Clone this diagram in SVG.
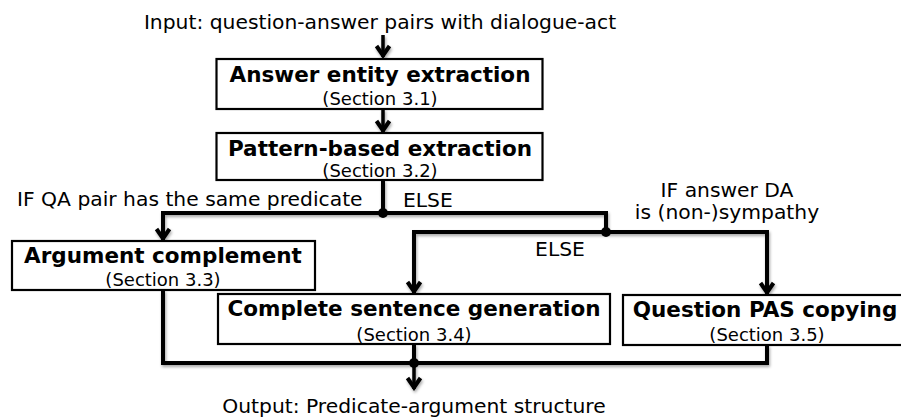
<svg xmlns="http://www.w3.org/2000/svg" width="901" height="417" viewBox="0 0 901 417">
<style>
.box{fill:#fff;stroke:#000;stroke-width:2.2}
.t{font-family:"DejaVu Sans",Verdana,sans-serif;font-weight:bold;font-size:21.5px;fill:#000;text-anchor:middle}
.s{font-family:"DejaVu Sans",Verdana,sans-serif;font-size:18px;fill:#000;text-anchor:middle}
.l{font-family:"DejaVu Sans",Verdana,sans-serif;font-size:20.3px;fill:#000}
.c{fill:none;stroke:#000;stroke-width:4;stroke-linejoin:miter}
.a{fill:none;stroke:#000;stroke-width:3.5}
.dot{fill:#000}
</style>
<defs>
<marker id="arr" viewBox="-14 -10 16 20" refX="0" refY="0" markerWidth="16" markerHeight="20" markerUnits="userSpaceOnUse" orient="auto">
<path d="M -11 -6.5 L -1.5 0 L -11 6.5" fill="none" stroke="#000" stroke-width="4" stroke-linejoin="miter" stroke-miterlimit="10"/>
</marker>
<filter id="sh" x="-5%" y="-20%" width="110%" height="140%">
<feDropShadow dx="1" dy="2" stdDeviation="1.5" flood-color="#000" flood-opacity="0.35"/>
</filter>
</defs>
<g id="connectors">
<g filter="url(#sh)">
<path class="a" d="M 383 35 L 383 57" marker-end="url(#arr)"/>
<path class="a" d="M 383 109 L 383 132" marker-end="url(#arr)"/>
<path class="c" d="M 383 180 L 383 213"/>
<path class="c" d="M 383 213 L 163 213 L 163 240" marker-end="url(#arr)"/>
<path class="c" d="M 383 213 L 606 213 L 606 232"/>
<path class="c" d="M 606 232 L 414 232 L 414 293" marker-end="url(#arr)"/>
<path class="c" d="M 606 232 L 767 232 L 767 294" marker-end="url(#arr)"/>
<path class="c" d="M 163 290 L 163 363 L 767 363 L 767 345"/>
<path class="c" d="M 414 344 L 414 363"/>
<path class="a" d="M 414 363 L 414 389" marker-end="url(#arr)"/>
</g>
<circle class="dot" cx="383" cy="213" r="5"/>
<circle class="dot" cx="606" cy="232" r="5"/>
<circle class="dot" cx="414" cy="363" r="5"/>
</g>
<g id="labels">
<text class="l" x="380" y="29" text-anchor="middle">Input: question-answer pairs with dialogue-act</text>
<text class="l" x="17" y="206">IF QA pair has the same predicate</text>
<text class="l" x="403" y="207">ELSE</text>
<text class="l" x="727" y="197" text-anchor="middle">IF answer DA</text>
<text class="l" x="727" y="219" text-anchor="middle">is (non-)sympathy</text>
<text class="l" x="560" y="256" text-anchor="middle">ELSE</text>
<text class="l" x="414" y="413" text-anchor="middle">Output: Predicate-argument structure</text>
</g>
<g id="n1">
<rect class="box" x="216.5" y="59" width="326" height="50"/>
<text class="t" x="380" y="82">Answer entity extraction</text>
<text class="s" x="380" y="105">(Section 3.1)</text>
</g>
<g id="n2">
<rect class="box" x="216.5" y="133" width="326" height="47"/>
<text class="t" x="380" y="156">Pattern-based extraction</text>
<text class="s" x="380" y="177">(Section 3.2)</text>
</g>
<g id="n3">
<rect class="box" x="12" y="241" width="303" height="49"/>
<text class="t" x="163" y="263">Argument complement</text>
<text class="s" x="163" y="286">(Section 3.3)</text>
</g>
<g id="n4">
<rect class="box" x="218" y="294" width="392" height="50"/>
<text class="t" x="414" y="316">Complete sentence generation</text>
<text class="s" x="414" y="341">(Section 3.4)</text>
</g>
<g id="n5">
<rect class="box" x="623" y="295" width="300" height="50"/>
<text class="t" x="765" y="317">Question PAS copying</text>
<text class="s" x="767" y="341">(Section 3.5)</text>
</g>
</svg>
